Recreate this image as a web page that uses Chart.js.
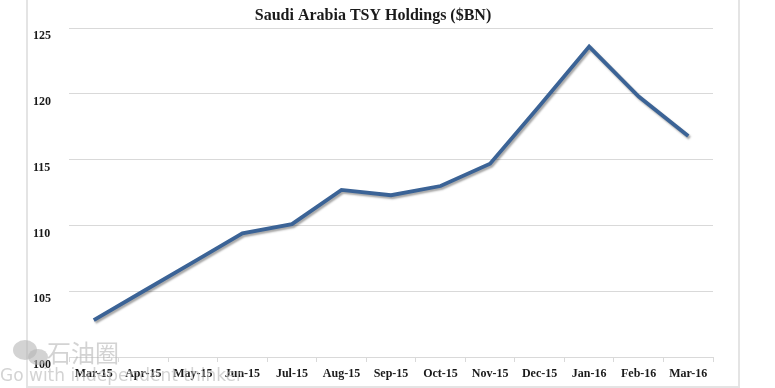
<!DOCTYPE html>
<html>
<head>
<meta charset="utf-8">
<script src="https://cdn.jsdelivr.net/npm/chart.js@4.4.0/dist/chart.umd.min.js"></script>
<style>
  html, body { margin: 0; padding: 0; background: #ffffff; }
  #wrap { position: relative; width: 775px; height: 388px; }
</style>
</head>
<body>
<div id="wrap"><canvas id="c" width="775" height="388"></canvas></div>
<script>
const categories = ["Mar-15","Apr-15","May-15","Jun-15","Jul-15","Aug-15","Sep-15","Oct-15","Nov-15","Dec-15","Jan-16","Feb-16","Mar-16"];
const holdings = [102.8, 105.0, 107.2, 109.4, 110.1, 112.7, 112.3, 113.0, 114.7, 119.1, 123.6, 119.8, 116.8];
const yTicks = [100, 105, 110, 115, 120, 125];
const titleText = "Saudi Arabia TSY Holdings ($BN)";
const watermarkCn = "石油圈";
const watermarkEn = "Go with independent thinker";

const serif = "'Liberation Serif', 'DejaVu Serif', serif";

const framePlugin = {
  id: 'frame',
  beforeDraw(chart) {
    const ctx = chart.ctx;
    ctx.save();
    ctx.strokeStyle = '#e4e4e4';
    ctx.lineWidth = 2;
    ctx.beginPath();
    ctx.moveTo(27, 0); ctx.lineTo(27, 387);
    ctx.lineTo(739, 387); ctx.lineTo(739, 0);
    ctx.stroke();
    ctx.restore();
  },
  afterDraw(chart) {
    const ctx = chart.ctx;
    ctx.save();
    ctx.globalAlpha = 0.6;
    ctx.fillStyle = '#b5b5b5';
    ctx.beginPath(); ctx.ellipse(25, 350, 12, 10, 0, 0, Math.PI * 2); ctx.fill();
    ctx.beginPath(); ctx.ellipse(38, 357, 10, 8, 0, 0, Math.PI * 2); ctx.fill();
    ctx.font = "24px 'Noto Sans CJK SC', sans-serif";
    ctx.textBaseline = 'middle';
    ctx.textAlign = 'left';
    ctx.fillText(watermarkCn, 47, 353);
    ctx.font = "17px 'DejaVu Sans', sans-serif";
    ctx.fillText(watermarkEn, 0, 377);
    ctx.restore();
  }
};

const shadowPlugin = {
  id: 'lineShadow',
  beforeDatasetDraw(chart) {
    const ctx = chart.ctx;
    ctx.save();
    ctx.shadowColor = 'rgba(0,0,0,0.35)';
    ctx.shadowBlur = 2;
    ctx.shadowOffsetX = 1.5;
    ctx.shadowOffsetY = 2;
  },
  afterDatasetDraw(chart) {
    chart.ctx.restore();
  }
};

new Chart(document.getElementById('c'), {
  type: 'line',
  data: {
    labels: categories,
    datasets: [{
      data: holdings,
      borderColor: '#3b6396',
      borderWidth: 3.8,
      pointRadius: 0,
      tension: 0,
      fill: false,
      borderJoinStyle: 'miter'
    }]
  },
  options: {
    responsive: false,
    animation: false,
    devicePixelRatio: 1,
    layout: { padding: { left: 33, right: 62, top: 0, bottom: 0 } },
    plugins: {
      legend: { display: false },
      tooltip: { enabled: false },
      title: {
        display: true,
        text: titleText,
        color: '#1a1a1a',
        font: { family: serif, size: 16, weight: 'bold' },
        padding: { top: 6, bottom: 3 }
      }
    },
    scales: {
      x: {
        offset: true,
        grid: {
          offset: true,
          drawOnChartArea: false,
          drawTicks: true,
          tickLength: 5,
          color: '#d9d9d9'
        },
        border: { display: true, color: '#d9d9d9', width: 1 },
        ticks: {
          color: '#1a1a1a',
          font: { family: serif, size: 12, weight: 'bold' },
          padding: 5,
          maxRotation: 0,
          autoSkip: false
        },
        afterFit(scale) { scale.height = 31; }
      },
      y: {
        min: 100,
        max: 125,
        afterBuildTicks(scale) { scale.ticks = yTicks.map(v => ({ value: v })); },
        grid: { color: '#d9d9d9', drawTicks: false, lineWidth: 1 },
        border: { display: false },
        ticks: {
          color: '#1a1a1a',
          font: { family: serif, size: 12, weight: 'bold' },
          crossAlign: 'far',
          labelOffset: 8
        },
        afterFit(scale) { scale.width = 36; }
      }
    }
  },
  plugins: [framePlugin, shadowPlugin]
});
</script>
</body>
</html>
